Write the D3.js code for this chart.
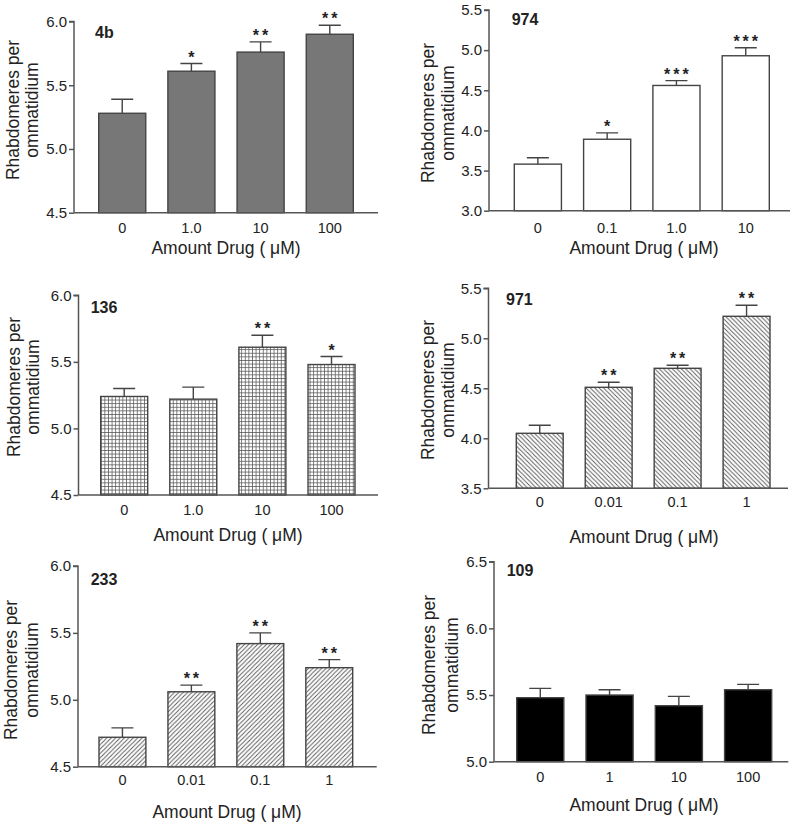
<!DOCTYPE html>
<html>
<head>
<meta charset="utf-8">
<script src="https://cdn.jsdelivr.net/npm/d3@7"></script>
<style>
  html, body { margin: 0; padding: 0; background: #fff; }
  svg { display: block; }
  text { font-family: "Liberation Sans", Arial, sans-serif; fill: #222; }
</style>
</head>
<body>
<svg id="chart" width="800" height="824"></svg>
<script>
// ---------- DATA ----------
const panelNames = ["4b", "974", "136", "971", "233", "109"];

const cats4b  = ["0", "1.0", "10", "100"];
const mean4b  = [5.28, 5.61, 5.76, 5.90];
const err4b   = [0.11, 0.06, 0.08, 0.07];
const sig4b   = ["", "*", "**", "**"];
const ticks4b = [4.5, 5.0, 5.5, 6.0];

const cats974  = ["0", "0.1", "1.0", "10"];
const mean974  = [3.58, 3.89, 4.56, 4.93];
const err974   = [0.08, 0.08, 0.06, 0.10];
const sig974   = ["", "*", "***", "***"];
const ticks974 = [3.0, 3.5, 4.0, 4.5, 5.0, 5.5];

const cats136  = ["0", "1.0", "10", "100"];
const mean136  = [5.24, 5.22, 5.61, 5.48];
const err136   = [0.06, 0.09, 0.09, 0.06];
const sig136   = ["", "", "**", "*"];
const ticks136 = [4.5, 5.0, 5.5, 6.0];

const cats971  = ["0", "0.01", "0.1", "1"];
const mean971  = [4.05, 4.51, 4.70, 5.22];
const err971   = [0.08, 0.05, 0.03, 0.11];
const sig971   = ["", "**", "**", "**"];
const ticks971 = [3.5, 4.0, 4.5, 5.0, 5.5];

const cats233  = ["0", "0.01", "0.1", "1"];
const mean233  = [4.72, 5.06, 5.42, 5.24];
const err233   = [0.07, 0.05, 0.08, 0.06];
const sig233   = ["", "**", "**", "**"];
const ticks233 = [4.5, 5.0, 5.5, 6.0];

const cats109  = ["0", "1", "10", "100"];
const mean109  = [5.48, 5.50, 5.42, 5.54];
const err109   = [0.07, 0.04, 0.07, 0.04];
const sig109   = ["", "", "", ""];
const ticks109 = [5.0, 5.5, 6.0, 6.5];

const yTitleLines = ["Rhabdomeres per", "ommatidium"];
const xTitle = "Amount Drug ( \u03BCM)";

// ---------- LAYOUT (positions / styles) ----------
const layout = [
  { cats: cats4b,  mean: mean4b,  err: err4b,  sig: sig4b,  ticks: ticks4b,
    ax: 74, axEnd: 378, yTop: 21.5, yBot: 212.7, bL: 98.7, bR: 353.3,
    fill: "#777777", label: [95, 32.5], yt: [12.5, 31.5, 110], xtY: 228, xtitle: [226, 248] },
  { cats: cats974, mean: mean974, err: err974, sig: sig974, ticks: ticks974,
    ax: 489, axEnd: 790, yTop: 10, yBot: 210.7, bL: 514.3, bR: 769.3,
    fill: "#ffffff", label: [511.7, 19.5], yt: [428, 448, 113], xtY: 228, xtitle: [644, 248] },
  { cats: cats136, mean: mean136, err: err136, sig: sig136, ticks: ticks136,
    ax: 78.5, axEnd: 378, yTop: 295.3, yBot: 495, bL: 100.7, bR: 355,
    fill: "url(#grid)", label: [90.7, 307.5], yt: [14, 33, 387], xtY: 510, xtitle: [228, 535] },
  { cats: cats971, mean: mean971, err: err971, sig: sig971, ticks: ticks971,
    ax: 488.5, axEnd: 788, yTop: 288.3, yBot: 488.3, bL: 516.3, bR: 770,
    fill: "url(#hatchBack)", label: [506, 299.5], yt: [427.5, 448, 390], xtY: 501.7, xtitle: [644, 537] },
  { cats: cats233, mean: mean233, err: err233, sig: sig233, ticks: ticks233,
    ax: 78, axEnd: 376.7, yTop: 566, yBot: 766.7, bL: 99, bR: 352.7,
    fill: "url(#hatchFwd)", label: [90.7, 579], yt: [11, 32, 670], xtY: 780, xtitle: [227, 811.7] },
  { cats: cats109, mean: mean109, err: err109, sig: sig109, ticks: ticks109,
    ax: 494, axEnd: 788.3, yTop: 561.7, yBot: 761.7, bL: 516.7, bR: 771.7,
    fill: "#000000", label: [506.7, 570.5], yt: [429, 452, 665], xtY: 776.7, xtitle: [644, 805] }
];

const svg = d3.select("#chart");
const defs = svg.append("defs");

// crosshatch grid
const g1 = defs.append("pattern").attr("id", "grid").attr("patternUnits", "userSpaceOnUse")
  .attr("width", 3.6).attr("height", 3.6);
g1.append("rect").attr("width", 3.6).attr("height", 3.6).attr("fill", "#fff");
g1.append("path").attr("d", "M0,0.4 H3.6 M0.4,0 V3.6").attr("stroke", "#555").attr("stroke-width", 0.8);

// "\\\" hatch
const s = 4.4;
const g2 = defs.append("pattern").attr("id", "hatchBack").attr("patternUnits", "userSpaceOnUse")
  .attr("width", s).attr("height", s);
g2.append("rect").attr("width", s).attr("height", s).attr("fill", "#fff");
g2.append("path").attr("d", `M0,0 L${s},${s} M${-s/2},${s/2} L${s/2},${1.5*s} M${s/2},${-s/2} L${1.5*s},${s/2}`)
  .attr("stroke", "#555").attr("stroke-width", 0.9);

// "///" hatch
const g3 = defs.append("pattern").attr("id", "hatchFwd").attr("patternUnits", "userSpaceOnUse")
  .attr("width", s).attr("height", s);
g3.append("rect").attr("width", s).attr("height", s).attr("fill", "#fff");
g3.append("path").attr("d", `M0,${s} L${s},0 M${-s/2},${s/2} L${s/2},${-s/2} M${s/2},${1.5*s} L${1.5*s},${s/2}`)
  .attr("stroke", "#555").attr("stroke-width", 0.9);

const axisColor = "#555";

layout.forEach((p, i) => {
  const g = svg.append("g");
  const y = d3.scaleLinear().domain([p.ticks[0], p.ticks[p.ticks.length - 1]]).range([p.yBot, p.yTop]);
  const x = d3.scaleBand().domain(p.cats).range([p.bL, p.bR]).paddingInner(0.32).paddingOuter(0);

  // y axis
  const yAxis = d3.axisLeft(y).tickValues(p.ticks).tickFormat(d3.format(".1f")).tickSize(5).tickPadding(2);
  const ya = g.append("g").attr("transform", `translate(${p.ax},0)`).call(yAxis);
  ya.select(".domain").attr("stroke", axisColor).attr("stroke-width", 1.5).attr("d", `M-5,${p.yTop}H0V${p.yBot}`);
  ya.selectAll(".tick line").attr("stroke", axisColor).attr("stroke-width", 1.5);
  ya.selectAll(".tick text").style("font-size", "15px").attr("fill", "#222");

  // bars
  g.selectAll(".bar").data(p.cats).enter().append("rect")
    .attr("x", d => x(d))
    .attr("y", (d, j) => y(p.mean[j]))
    .attr("width", x.bandwidth())
    .attr("height", (d, j) => y(p.ticks[0]) - y(p.mean[j]))
    .attr("fill", p.fill)
    .attr("stroke", "#444").attr("stroke-width", 1.4);

  // error bars (upper only)
  const capW = 22;
  g.selectAll(".err").data(p.cats).enter().append("path")
    .attr("d", (d, j) => {
      const cx = x(d) + x.bandwidth() / 2;
      const y0 = y(p.mean[j]), y1 = y(p.mean[j] + p.err[j]);
      return `M${cx},${y0}V${y1}M${cx - capW / 2},${y1}H${cx + capW / 2}`;
    })
    .attr("fill", "none").attr("stroke", "#444").attr("stroke-width", 1.4);

  // significance stars
  g.selectAll(".sig").data(p.cats).enter().append("text")
    .attr("x", d => x(d) + x.bandwidth() / 2 + 1.5)
    .attr("y", (d, j) => y(p.mean[j] + p.err[j]) - 1)
    .attr("text-anchor", "middle")
    .style("font-size", "16px").style("font-weight", "bold").style("letter-spacing", "3px")
    .text((d, j) => p.sig[j]);

  // x axis line
  g.append("line").attr("x1", p.ax).attr("x2", p.axEnd).attr("y1", p.yBot).attr("y2", p.yBot)
    .attr("stroke", axisColor).attr("stroke-width", 1.5);

  // x tick labels
  g.selectAll(".xt").data(p.cats).enter().append("text")
    .attr("x", d => x(d) + x.bandwidth() / 2)
    .attr("y", p.xtY).attr("dy", "0.35em")
    .attr("text-anchor", "middle").style("font-size", "14.5px")
    .text(d => d);

  // x title
  g.append("text").attr("x", p.xtitle[0]).attr("y", p.xtitle[1]).attr("dy", "0.35em")
    .attr("text-anchor", "middle").style("font-size", "17.5px").text(xTitle);

  // y title (two lines)
  yTitleLines.forEach((t, k) => {
    g.append("text")
      .attr("transform", `translate(${p.yt[k]},${p.yt[2]}) rotate(-90)`)
      .attr("text-anchor", "middle").attr("dy", "0.35em")
      .style("font-size", "17.5px").text(t);
  });

  // panel label
  g.append("text").attr("x", p.label[0]).attr("y", p.label[1]).attr("dy", "0.35em")
    .style("font-size", "16px").style("font-weight", "bold").text(panelNames[i]);
});
</script>
</body>
</html>
